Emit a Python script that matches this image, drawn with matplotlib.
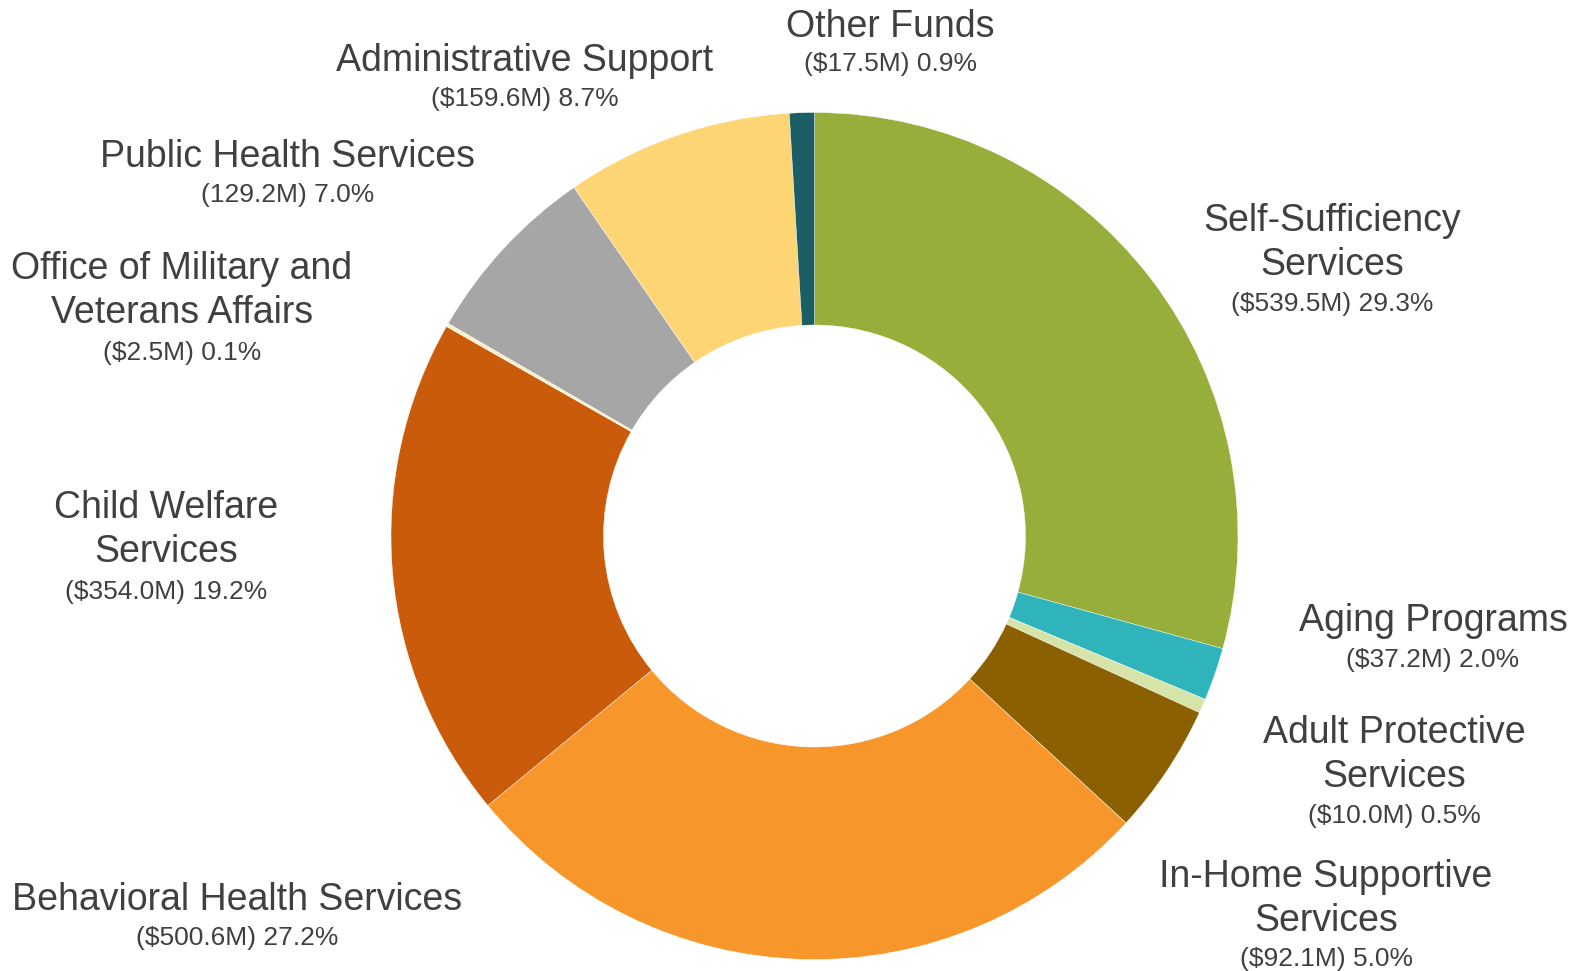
import matplotlib
matplotlib.use("Agg")
import matplotlib.pyplot as plt

# Budget by program area ($M), clockwise from 12 o'clock
programs = [
    "Self-Sufficiency\nServices",
    "Aging Programs",
    "Adult Protective\nServices",
    "In-Home Supportive\nServices",
    "Behavioral Health Services",
    "Child Welfare\nServices",
    "Office of Military and\nVeterans Affairs",
    "Public Health Services",
    "Administrative Support",
    "Other Funds",
]
amounts = [539.5, 37.2, 10.0, 92.1, 500.6, 354.0, 2.5, 129.2, 159.6, 17.5]
value_labels = [
    "($539.5M) 29.3%",
    "($37.2M) 2.0%",
    "($10.0M) 0.5%",
    "($92.1M) 5.0%",
    "($500.6M) 27.2%",
    "($354.0M) 19.2%",
    "($2.5M) 0.1%",
    "(129.2M) 7.0%",
    "($159.6M) 8.7%",
    "($17.5M) 0.9%",
]
colors = ["#97AE3A", "#2FB4BC", "#D6E4AA", "#8A6000", "#F7962A",
          "#C95B0A", "#FFF0C8", "#A6A6A6", "#FDD575", "#1B5E63"]

# Label anchor positions (pixel coords, origin top-left): name block centre, value line
name_pos = [(1332, 243), (1433, 621), (1394, 755), (1326, 899), (237, 900),
            (166, 530), (182, 291), (288, 157), (525, 61), (890, 27)]
value_pos = [(1332, 304), (1433, 660), (1394, 816), (1326, 959), (237, 938),
             (166, 592), (182, 353), (288, 195), (525, 99), (890, 64)]

W, H = 1580, 971
fig = plt.figure(figsize=(W / 100, H / 100), dpi=100)
ax = fig.add_axes([0, 0, 1, 1])

cx, cy, R, r = 814.5, H - 536, 423.5, 211
ax.pie(amounts, colors=colors, startangle=90, counterclock=False,
       center=(cx, cy), radius=R, frame=True,
       wedgeprops=dict(width=R - r, linewidth=0.3, edgecolor="white"))
ax.set_xlim(0, W)
ax.set_ylim(0, H)
ax.set_aspect("equal")
ax.axis("off")

txt = "#404040"
font = ["Liberation Sans", "DejaVu Sans"]
for name, val, (nx, ny), (vx, vy) in zip(programs, value_labels, name_pos, value_pos):
    ax.text(nx, H - ny, name, ha="center", va="center", fontsize=27,
            color=txt, family=font, linespacing=1.32)
    ax.text(vx, H - vy, val, ha="center", va="center", fontsize=19,
            color=txt, family=font)

fig.savefig("out.png", dpi=100)
